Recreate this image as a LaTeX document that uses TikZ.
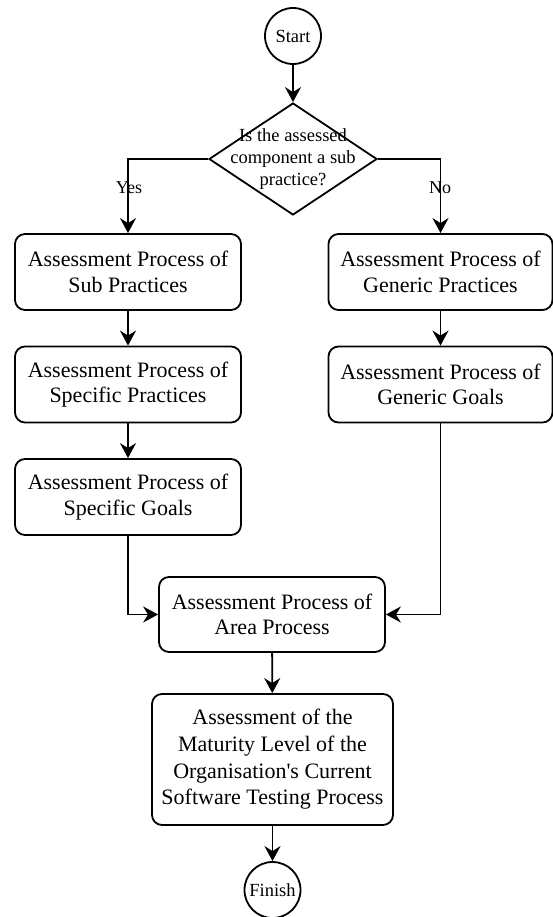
\documentclass[tikz,border=0pt]{standalone}
\usepackage{fontspec}
\setmainfont{Liberation Serif}
\usetikzlibrary{shapes.geometric,arrows.meta}
\begin{document}
\begin{tikzpicture}[x=1pt,y=-1pt,
  line width=1.8pt,
  arr/.style={-{Stealth[length=15pt,width=16pt,inset=5pt]}},
  proc/.style={draw,rounded corners=10pt,minimum width=226pt,minimum height=76pt,align=center,inner sep=0pt,
    font=\fontsize{22}{25.5}\selectfont},
  term/.style={draw,circle,minimum size=56pt,inner sep=0pt,font=\fontsize{18.5}{22}\selectfont},
  lbl/.style={font=\fontsize{18}{21}\selectfont,inner sep=0pt}]
\useasboundingbox (0,0) rectangle (553,917);
\node[term] (start) at (293,36) {Start};
\node[draw,diamond,minimum width=168pt,minimum height=112pt,inner sep=0pt] (dec) at (293,159) {};
\node[align=center,inner sep=0pt,font=\fontsize{18.5}{22.3}\selectfont] (dectext) at (dec) {Is the assessed\\component a sub\\practice?};
\node[proc] (b1) at (128,272) {Assessment Process of\\Sub Practices};
\node[proc] (b2) at (128,384.5) {Assessment Process of\\Specific Practices};
\node[proc] (b3) at (128,497) {Assessment Process of\\Specific Goals};
\node[proc,minimum width=224pt] (r1) at (440.5,272) {Assessment Process of\\Generic Practices};
\node[proc,minimum width=224pt] (r2) at (440.5,384.5) {Assessment Process of\\Generic Goals};
\node[proc,minimum height=75pt] (area) at (272,614.5) {Assessment Process of\\Area Process};
\node[proc,minimum width=241pt,minimum height=131pt,font=\fontsize{22}{26.7}\selectfont] (final) at (272.5,759.5)
  {Assessment of the\\Maturity Level of the\\Organisation\textquotesingle s Current\\Software Testing Process};
\node[term] (finish) at (272.5,890) {Finish};
\draw[arr] (start) -- (dec.north);
\draw[arr] (dec.west) -| (b1.north);
\draw[arr] (dec.east) -| (r1.north);
\node[lbl] (yes) at (129,188) {Yes};
\node[lbl] (no) at (440,188) {No};
\draw[arr] (b1) -- (b2);
\draw[arr] (b2) -- (b3);
\draw[arr] (r1) -- (r2);
\draw[arr] (b3.south) |- (area.west);
\draw[arr] (r2.south) |- (area.east);
\draw[arr] (area) -- (final);
\draw[arr] (final) -- (finish);
\end{tikzpicture}
\end{document}
